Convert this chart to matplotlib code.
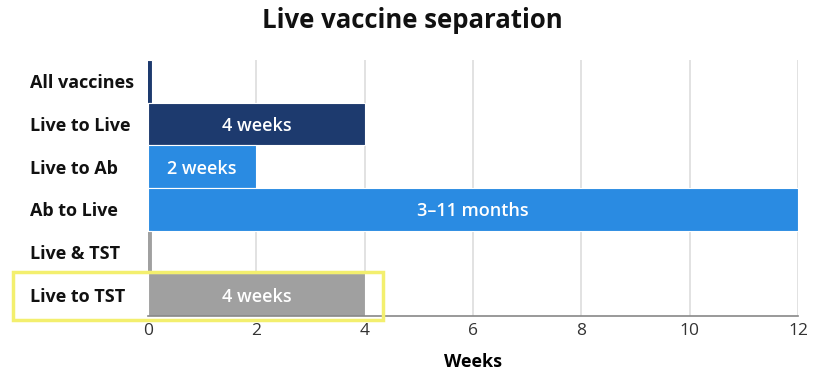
import matplotlib.pyplot as plt
from matplotlib.patches import Rectangle
from matplotlib.transforms import blended_transform_factory

# data
categories = ['All vaccines', 'Live to Live', 'Live to Ab', 'Ab to Live', 'Live & TST', 'Live to TST']
weeks = [0.15, 4, 2, 12, 0.15, 4]
starts = [-0.07, 0, 0, 0, -0.07, 0]
bar_labels = ['', '4 weeks', '2 weeks', '3\u201311 months', '', '4 weeks']
bar_colors = ['#1d3a6e', '#1d3a6e', '#2a8be2', '#2a8be2', '#a0a0a0', '#a0a0a0']
x_ticks = [0, 2, 4, 6, 8, 10, 12]

plt.rcParams['font.family'] = ['Open Sans', 'DejaVu Sans']

fig = plt.figure(figsize=(8.24, 3.89), dpi=100)
ax = fig.add_axes([148 / 824, 1 - 316 / 389, 650 / 824, 256 / 389])

ypos = list(range(len(categories)))
ax.barh(ypos, weeks, left=starts, height=1.0, color=bar_colors,
        edgecolor='white', linewidth=0.8, zorder=3)

for y, s, w, lab in zip(ypos, starts, weeks, bar_labels):
    if lab:
        ax.text(s + w / 2, y, lab, ha='center', va='center_baseline', color='white',
                fontsize=13, fontweight='semibold', zorder=4)

ax.set_ylim(len(categories) - 0.5, -0.5)
ax.set_xlim(0, 12)
ax.set_xticks(x_ticks)
ax.set_xticklabels([str(t) for t in x_ticks], fontsize=12.5, color='#333333')
ax.set_yticks([])
ax.tick_params(axis='x', length=0, pad=5)
ax.grid(axis='x', color='#dddddd', linewidth=1.2, zorder=0)
for side in ['top', 'right', 'left']:
    ax.spines[side].set_visible(False)
ax.spines['bottom'].set_color('#888888')
ax.spines['bottom'].set_linewidth(1.2)
ax.spines['bottom'].set_zorder(5)

ax.set_xlabel('Weeks', fontsize=13, fontweight='bold', labelpad=10)

trans = blended_transform_factory(fig.transFigure, ax.transData)
for y, cat in zip(ypos, categories):
    ax.text(30 / 824, y, cat, transform=trans, ha='left', va='center_baseline',
            fontsize=13, fontweight='bold', color='#111111')

fig.text(0.5, 1 - 21 / 389, 'Live vaccine separation', ha='center', va='center',
         fontsize=18.5, fontweight='bold', color='#111111')

# yellow highlight box
fig.patches.append(Rectangle((13 / 824, 1 - 320 / 389), 370 / 824, 48 / 389,
                             transform=fig.transFigure, fill=False,
                             edgecolor='#f3ef6e', linewidth=2.5, zorder=10))

fig.savefig('out.png', dpi=100)
